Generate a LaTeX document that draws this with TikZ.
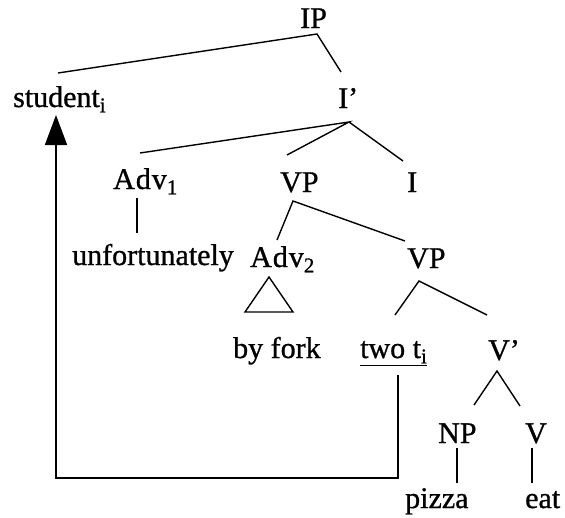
\documentclass[tikz,border=0pt]{standalone}
\usepackage{fontspec}
\setmainfont[FakeBold=0.9]{Liberation Serif}
\usetikzlibrary{arrows.meta}
\begin{document}
\begin{tikzpicture}[x=1pt,y=-1pt,
  lab/.style={anchor=base west,inner sep=0pt,font=\fontsize{30}{34}\selectfont},
  edge/.style={line width=1.4pt},
  move/.style={line width=1.7pt,-{Triangle[length=30pt,width=22pt]}}]
\useasboundingbox (0,0) rectangle (565,517);
% labels
\node[lab] (IP) at (300,28) {IP};
\node[lab] (student) at (13,107) {student\textsubscript{i}};
\node[lab] (Ibar) at (338,108) {I’};
\node[lab] (Adv1) at (113,189) {A\kern1pt d\kern1pt v\textsubscript{1}};
\node[lab] (VPa) at (280,192) {VP};
\node[lab] (I) at (407,192) {I};
\node[lab] (unf) at (72,265) {unfortunately};
\node[lab] (Adv2) at (250,267) {A\kern1pt d\kern1pt v\textsubscript{2}};
\node[lab] (VPb) at (407,268) {VP};
\node[lab] (fork) at (233,358) {by fork};
\node[lab] (two) at (360,358) {\underline{two t\textsubscript{i}}};
\node[lab] (Vbar) at (488,360) {V’};
\node[lab] (NP) at (438,443) {NP};
\node[lab] (V) at (525,443) {V};
\node[lab] (pizza) at (405,508) {pizza};
\node[lab] (eat) at (525,508) {eat};
% edge end points
\coordinate (IPd) at (317,34);
\coordinate (studentu) at (58,73);
\coordinate (Ibaru) at (341,72);
\coordinate (Ibard) at (349,122);
\coordinate (Adv1u) at (140,153);
\coordinate (Adv1d) at (137,198);
\coordinate (unfu) at (137,233);
\coordinate (VPau) at (287,155);
\coordinate (Iu) at (403,161);
\coordinate (VPad) at (293,201);
\coordinate (Adv2u) at (277,240);
\coordinate (VPbu) at (405,241);
\coordinate (triT) at (269,277);
\coordinate (triL) at (245,312);
\coordinate (triR) at (293,312);
\coordinate (VPbd) at (419,281);
\coordinate (twou) at (395,315);
\coordinate (Vbaru) at (487,315);
\coordinate (Vbard) at (497,371);
\coordinate (NPu) at (474,405);
\coordinate (Vu) at (520,406);
\coordinate (NPd) at (457,448);
\coordinate (pizzau) at (457,483);
\coordinate (Vd) at (532,448);
\coordinate (eatu) at (532,483);
\coordinate (twod) at (398,375);
\coordinate (corner) at (398,478);
\coordinate (corner2) at (56,478);
\coordinate (studentd) at (56,115);
% tree edges
\draw[edge] (studentu) -- (IPd) -- (Ibaru);
\draw[edge] (Adv1u) -- (Ibard) -- (VPau);
\draw[edge] (Ibard) -- (Iu);
\draw[edge] (Adv1d) -- (unfu);
\draw[edge] (Adv2u) -- (VPad) -- (VPbu);
\draw[edge] (triT) -- (triL) -- (triR) -- cycle;
\draw[edge] (twou) -- (VPbd) -- (Vbaru);
\draw[edge] (NPu) -- (Vbard) -- (Vu);
\draw[edge] (NPd) -- (pizzau);
\draw[edge] (Vd) -- (eatu);
% movement arrow
\draw[move] (twod) -- (corner) -- (corner2) -- (studentd);
\end{tikzpicture}
\end{document}
